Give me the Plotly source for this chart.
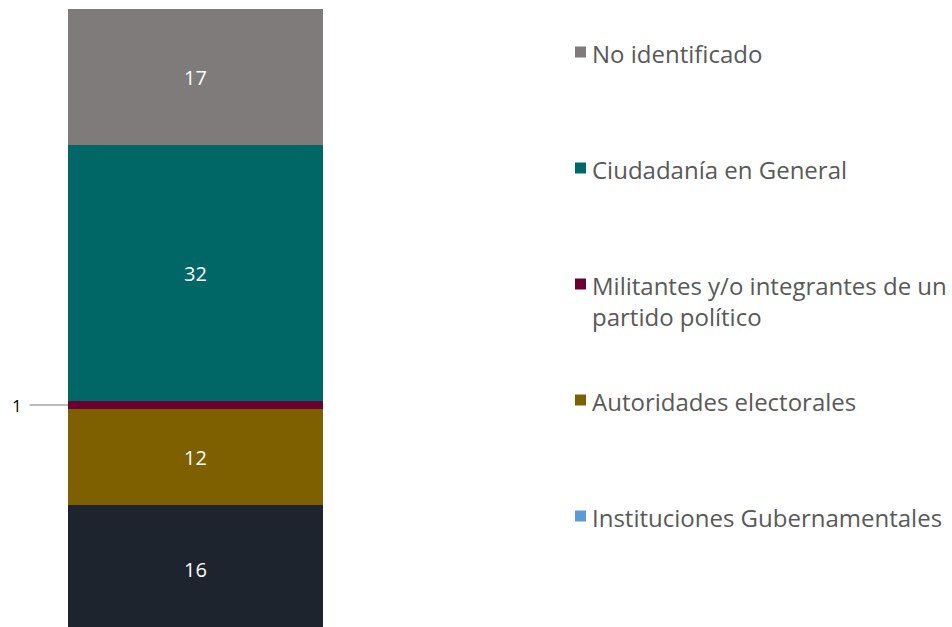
import plotly.graph_objects as go

# Segments from bottom to top of the stacked bar
segment_names = [
    'Instituciones Gubernamentales',
    'Autoridades electorales',
    'Militantes y/o integrantes de un partido político',
    'Ciudadanía en General',
    'No identificado',
]
segment_values = [16, 12, 1, 32, 17]
segment_colors = ['#1e242d', '#7f6000', '#6b0033', '#006666', '#7f7b7b']

# Legend entries (top to bottom) and their swatch colours
legend_names = [
    'No identificado',
    'Ciudadanía en General',
    'Militantes y/o integrantes de un<br>partido político',
    'Autoridades electorales',
    'Instituciones Gubernamentales',
]
legend_colors = ['#7f7b7b', '#006666', '#6b0033', '#7f6000', '#5b9bd5']

FONT = '"Open Sans", Lato, sans-serif'
W, H = 952, 627
MT, MB = 9, 0
PLOT_H = H - MT - MB

fig = go.Figure()

for name, val, color in zip(segment_names, segment_values, segment_colors):
    fig.add_trace(go.Bar(
        x=[0],
        y=[val],
        width=1,
        name=name,
        marker=dict(color=color, line=dict(width=0)),
        text=[str(val)] if val > 1 else [''],
        textposition='inside',
        insidetextanchor='middle',
        textfont=dict(color='white', size=20, family=FONT),
        showlegend=False,
        hoverinfo='skip',
    ))

# small segment labelled outside with a leader line
small_idx = segment_values.index(1)
small_mid = sum(segment_values[:small_idx]) + segment_values[small_idx] / 2
fig.add_annotation(
    x=-0.5, y=small_mid,
    text=str(segment_values[small_idx]),
    showarrow=True, arrowhead=0, arrowwidth=1.5, arrowcolor='#a6a6a6',
    ax=-51, ay=0, startstandoff=6,
    font=dict(size=17, color='#000000', family=FONT),
)


def py_to_paper(py):
    return (H - MB - py) / PLOT_H


# hand-built legend so the entries sit on an even grid
for i, (name, color) in enumerate(zip(legend_names, legend_colors)):
    cy = 52 + 116 * i
    fig.add_shape(
        type='rect', xref='paper', yref='paper',
        x0=575 / W, x1=586 / W,
        y0=py_to_paper(cy + 5.5), y1=py_to_paper(cy - 5.5),
        fillcolor=color, line=dict(width=0),
    )
    fig.add_annotation(
        xref='paper', yref='paper',
        x=590 / W, y=py_to_paper(cy - 17),
        xanchor='left', yanchor='top', align='left',
        text=name, showarrow=False,
        font=dict(size=24, color='#595959', family=FONT),
    )

fig.update_layout(
    barmode='stack',
    width=W,
    height=H,
    margin=dict(l=0, r=0, t=MT, b=MB),
    paper_bgcolor='white',
    plot_bgcolor='white',
    font=dict(family=FONT),
    showlegend=False,
    xaxis=dict(domain=[0, 0.4], range=[-0.7667, 0.7267], visible=False, fixedrange=True),
    # bottom of the bar runs a little past the frame
    yaxis=dict(range=[0.75, sum(segment_values)], visible=False, fixedrange=True),
    bargap=0,
)

fig.write_html('out.html', config={'displayModeBar': False},
               post_script="document.body.style.margin='0';")
